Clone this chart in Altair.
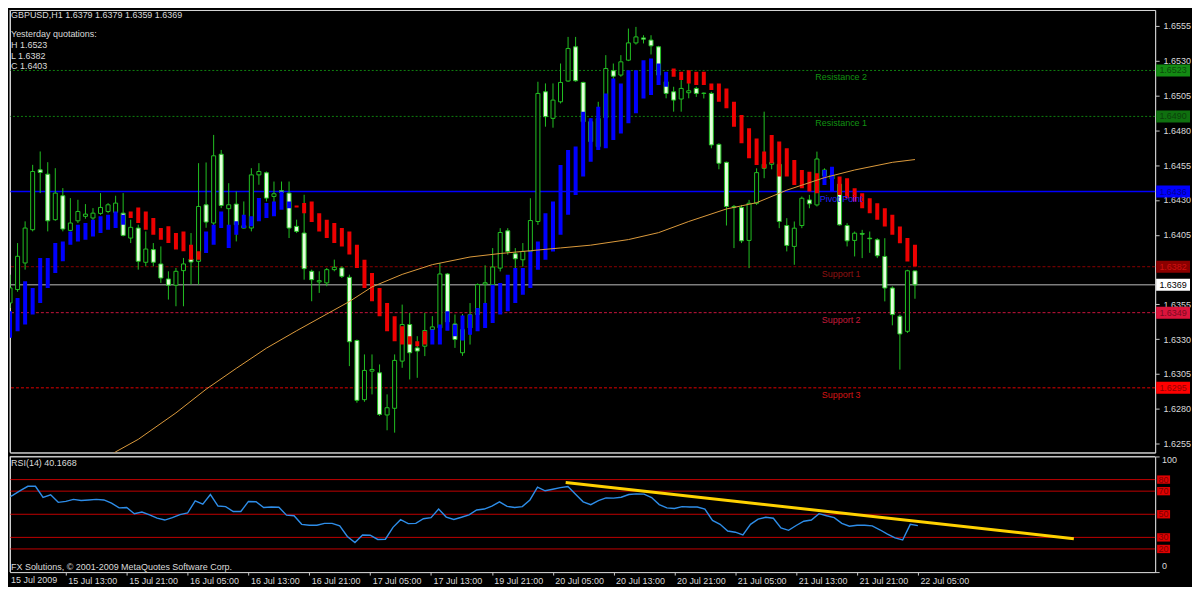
import json
import altair as alt
import pandas as pd

# ---------------- data ----------------
bars = list(range(121))

opens = [1.63560, 1.63656, 1.63847, 1.64086, 1.64516, 1.64485, 1.64158, 1.64330, 1.64081, 1.64150,
         1.64182, 1.64170, 1.64203, 1.64217, 1.64210, 1.64205, 1.64026, 1.64098, 1.63852, 1.63943,
         1.63840, 1.63732, 1.63687, 1.63792, 1.63876, 1.63859, 1.64265, 1.64134, 1.64628, 1.64237,
         1.64270, 1.64098, 1.64098, 1.64480, 1.64495, 1.64325, 1.64366, 1.64349, 1.64110, 1.64062,
         1.63787, 1.63711, 1.63704, 1.63799, 1.63811, 1.63744, 1.63290, 1.62865, 1.63070, 1.63058,
         1.62755, 1.62803, 1.63142, 1.63405, 1.63237, 1.63249, 1.63369, 1.63381, 1.63768, 1.63409,
         1.63202, 1.63380, 1.63476, 1.63695, 1.63691, 1.63810, 1.64078, 1.63913, 1.63870, 1.63930,
         1.64145, 1.65077, 1.64886, 1.65005, 1.65154, 1.65400, 1.65144, 1.64862, 1.64683, 1.64891,
         1.65228, 1.65197, 1.65304, 1.65428, 1.65464, 1.65448, 1.65400, 1.65149, 1.65077, 1.65025,
         1.65070, 1.65101, 1.65065, 1.65065, 1.64699, 1.64570, 1.64253, 1.64245, 1.64009, 1.64276,
         1.64527, 1.64556, 1.64556, 1.64116, 1.63966, 1.64116, 1.64300, 1.64264, 1.64515, 1.64450,
         1.64413, 1.64116, 1.64009, 1.64059, 1.64025, 1.64014, 1.63894, 1.63667, 1.63464, 1.63356,
         1.63790]

highs = [1.63763, 1.63990, 1.64146, 1.64552, 1.64648, 1.64571, 1.64528, 1.64385, 1.64313, 1.64301,
         1.64270, 1.64241, 1.64349, 1.64277, 1.64330, 1.64349, 1.64158, 1.64122, 1.64074, 1.63990,
         1.63966, 1.63787, 1.63811, 1.63883, 1.64062, 1.64564, 1.64569, 1.64767, 1.64659, 1.64420,
         1.64361, 1.64289, 1.64528, 1.64564, 1.64504, 1.64432, 1.64432, 1.64432, 1.64158, 1.64337,
         1.63799, 1.63787, 1.63811, 1.63871, 1.63823, 1.63763, 1.63297, 1.63190, 1.63190, 1.63118,
         1.62903, 1.63190, 1.63548, 1.63488, 1.63321, 1.63488, 1.63465, 1.63847, 1.63775, 1.63477,
         1.63480, 1.63559, 1.63700, 1.63830, 1.63954, 1.64097, 1.64097, 1.63954, 1.63990, 1.64312,
         1.65149, 1.65137, 1.65137, 1.65280, 1.65471, 1.65471, 1.65149, 1.64886, 1.65005, 1.65340,
         1.65280, 1.65340, 1.65531, 1.65543, 1.65483, 1.65483, 1.65407, 1.65185, 1.65113, 1.65161,
         1.65161, 1.65113, 1.65072, 1.65077, 1.64707, 1.64575, 1.64264, 1.64264, 1.64300, 1.64527,
         1.64934, 1.64659, 1.64575, 1.64169, 1.64145, 1.64324, 1.64336, 1.64647, 1.64527, 1.64527,
         1.64420, 1.64133, 1.64073, 1.64085, 1.64073, 1.64025, 1.64025, 1.63679, 1.63476, 1.63798,
         1.63790]

lows = [1.63524, 1.63640, 1.63799, 1.64074, 1.64349, 1.64074, 1.64150, 1.64074, 1.64074, 1.64134,
        1.64165, 1.64146, 1.64193, 1.64205, 1.64198, 1.64038, 1.63990, 1.63799, 1.63823, 1.63823,
        1.63704, 1.63584, 1.63536, 1.63536, 1.63692, 1.63692, 1.64100, 1.64120, 1.64241, 1.64074,
        1.64002, 1.64096, 1.64074, 1.64409, 1.64289, 1.64265, 1.64337, 1.64026, 1.64062, 1.63727,
        1.63572, 1.63632, 1.63680, 1.63787, 1.63739, 1.63106, 1.62843, 1.62850, 1.62903, 1.62748,
        1.62645, 1.62628, 1.63094, 1.63010, 1.63022, 1.63178, 1.63297, 1.63360, 1.63381, 1.63237,
        1.63180, 1.63261, 1.63450, 1.63550, 1.63667, 1.63786, 1.63906, 1.63798, 1.63822, 1.63906,
        1.64121, 1.64826, 1.64819, 1.64993, 1.65149, 1.65149, 1.64850, 1.64647, 1.64671, 1.64886,
        1.65149, 1.65185, 1.65297, 1.65416, 1.65424, 1.65345, 1.65137, 1.65030, 1.64934, 1.64934,
        1.65030, 1.65040, 1.65029, 1.64671, 1.64520, 1.64116, 1.63954, 1.63990, 1.63810, 1.64264,
        1.64456, 1.64520, 1.64097, 1.63930, 1.63834, 1.64097, 1.64240, 1.64253, 1.64430, 1.64408,
        1.64116, 1.63966, 1.63894, 1.63882, 1.63920, 1.63882, 1.63571, 1.63399, 1.63081, 1.63344,
        1.63590]

closes = [1.63668, 1.63895, 1.64098, 1.64504, 1.64497, 1.64150, 1.64349, 1.64091, 1.64134, 1.64217,
          1.64198, 1.64205, 1.64246, 1.64265, 1.64277, 1.64045, 1.64103, 1.63859, 1.63947, 1.63852,
          1.63739, 1.63687, 1.63787, 1.63840, 1.63854, 1.64253, 1.64141, 1.64617, 1.64260, 1.64265,
          1.64122, 1.64115, 1.64480, 1.64504, 1.64313, 1.64344, 1.64354, 1.64098, 1.64074, 1.63806,
          1.63727, 1.63720, 1.63799, 1.63816, 1.63751, 1.63281, 1.62860, 1.63075, 1.63082, 1.62759,
          1.62807, 1.63147, 1.63405, 1.63202, 1.63214, 1.63362, 1.63388, 1.63768, 1.63424, 1.63297,
          1.63369, 1.63476, 1.63691, 1.63705, 1.63818, 1.64066, 1.63930, 1.63877, 1.63930, 1.64152,
          1.65065, 1.64898, 1.65017, 1.65144, 1.65388, 1.65156, 1.64862, 1.64719, 1.64886, 1.65244,
          1.65189, 1.65292, 1.65428, 1.65471, 1.65455, 1.65407, 1.65197, 1.65065, 1.65017, 1.65101,
          1.65084, 1.65065, 1.65067, 1.64695, 1.64563, 1.64253, 1.64245, 1.64006, 1.64276, 1.64496,
          1.64556, 1.64570, 1.64145, 1.63973, 1.64097, 1.64312, 1.64272, 1.64594, 1.64475, 1.64480,
          1.64121, 1.64006, 1.64061, 1.64054, 1.64021, 1.63899, 1.63667, 1.63476, 1.63337, 1.63791,
          1.63690]

# trend ribbon (upper / lower value, 1 = blue up-trend, 0 = red down-trend)
rib_hi = [1.63500, 1.63596, 1.63715, 1.63668, 1.63883, 1.63883, 1.63990, 1.64002, 1.64074, 1.64122,
          1.64134, 1.64158, 1.64182, 1.64193, 1.64217, 1.64193, 1.64217, 1.64246, 1.64217, 1.64170,
          1.64098, 1.64110, 1.64062, 1.64074, 1.63978, 1.63931, 1.64074, 1.64122, 1.64217, 1.64122,
          1.64146, 1.64193, 1.64182, 1.64313, 1.64277, 1.64289, 1.64361, 1.64289, 1.64260, 1.64277,
          1.64289, 1.64205, 1.64158, 1.64134, 1.64098, 1.64074, 1.63978, 1.63871, 1.63775, 1.63668,
          1.63560, 1.63465, 1.63393, 1.63321, 1.63285, 1.63357, 1.63369, 1.63405, 1.63500, 1.63405,
          1.63470, 1.63476, 1.63524, 1.63559, 1.63691, 1.63703, 1.63763, 1.63810, 1.63810, 1.63930,
          1.64002, 1.64205, 1.64288, 1.64551, 1.64659, 1.64683, 1.64934, 1.64886, 1.64970, 1.65065,
          1.65173, 1.65137, 1.65232, 1.65232, 1.65304, 1.65316, 1.65280, 1.65220, 1.65244, 1.65220,
          1.65232, 1.65220, 1.65220, 1.65137, 1.65137, 1.65101, 1.65005, 1.64910, 1.64814, 1.64742,
          1.64647, 1.64766, 1.64719, 1.64671, 1.64587, 1.64515, 1.64503, 1.64492, 1.64515, 1.64539,
          1.64468, 1.64456, 1.64384, 1.64348, 1.64312, 1.64276, 1.64241, 1.64193, 1.64109, 1.64026,
          1.63978]
rib_lo = [1.63309, 1.63357, 1.63405, 1.63476, 1.63560, 1.63668, 1.63775, 1.63859, 1.63978, 1.64002,
          1.64014, 1.64038, 1.64062, 1.64086, 1.64098, 1.64122, 1.64170, 1.64134, 1.64086, 1.64050,
          1.64014, 1.63990, 1.63943, 1.63931, 1.63871, 1.63871, 1.63919, 1.63978, 1.64098, 1.63954,
          1.64050, 1.64098, 1.64110, 1.64146, 1.64170, 1.64182, 1.64229, 1.64241, 1.64246, 1.64205,
          1.64141, 1.64074, 1.64026, 1.63990, 1.63966, 1.63907, 1.63811, 1.63668, 1.63572, 1.63465,
          1.63357, 1.63285, 1.63261, 1.63261, 1.63249, 1.63261, 1.63261, 1.63261, 1.63360, 1.63321,
          1.63290, 1.63332, 1.63356, 1.63380, 1.63416, 1.63476, 1.63500, 1.63559, 1.63619, 1.63667,
          1.63798, 1.63870, 1.63930, 1.64049, 1.64193, 1.64336, 1.64468, 1.64575, 1.64659, 1.64671,
          1.64731, 1.64778, 1.64850, 1.64922, 1.65029, 1.65053, 1.65125, 1.65113, 1.65185, 1.65161,
          1.65137, 1.65125, 1.65125, 1.65089, 1.65005, 1.64958, 1.64826, 1.64707, 1.64599, 1.64551,
          1.64527, 1.64563, 1.64468, 1.64468, 1.64408, 1.64384, 1.64360, 1.64348, 1.64408, 1.64360,
          1.64336, 1.64312, 1.64288, 1.64241, 1.64205, 1.64157, 1.64109, 1.64049, 1.63989, 1.63858,
          1.63822]
rib_up = [1, 1, 1, 1, 1, 1, 1, 1, 1, 1, 1, 1, 1, 1, 1, 1,
          0, 0, 0, 0, 0, 0, 0, 0, 0, 0,
          1, 1, 1, 1, 1, 1, 1, 1, 1, 1, 1, 1,
          0, 0, 0, 0, 0, 0, 0, 0, 0, 0, 0, 0, 0, 0, 0, 0, 0, 0,
          1, 1, 1, 1, 1, 1, 1, 1, 1, 1, 1, 1, 1, 1, 1, 1, 1, 1, 1, 1, 1, 1, 1, 1, 1, 1, 1, 1, 1, 1, 1, 1,
          0, 0, 0, 0, 0, 0, 0, 0, 0, 0, 0, 0, 0, 0, 0, 0, 0, 0, 0, 0,
          1, 1,
          0, 0, 0, 0, 0, 0, 0, 0, 0, 0, 0]

# moving average (read at selected bars)
ma_bars = [10, 14, 17, 22, 26, 30, 34, 38, 42, 45, 48, 52, 56, 61, 65, 69, 73, 77, 82, 86,
           90, 95, 99, 103, 108, 112, 117, 120]
ma_vals = [1.62350, 1.62490, 1.62580, 1.62770, 1.62940, 1.63090, 1.63235, 1.63360, 1.63480, 1.63570,
           1.63675, 1.63765, 1.63835, 1.63890, 1.63915, 1.63935, 1.63955, 1.63975, 1.64015, 1.64065,
           1.64145, 1.64235, 1.64280, 1.64370, 1.64460, 1.64515, 1.64570, 1.64590]

rsi = [62.9, 66.3, 70.5, 74.2, 74.2, 64.5, 66.8, 60.3, 61.1, 62.9,
       61.9, 62.4, 62.9, 62.4, 59.7, 55.5, 55.8, 50.5, 51.9, 49.5,
       46.6, 45.0, 47.1, 49.7, 51.1, 61.6, 58.7, 67.1, 57.1, 56.6,
       52.4, 52.4, 61.1, 60.8, 55.8, 56.3, 56.1, 49.2, 48.7, 41.3,
       40.5, 40.5, 42.1, 42.1, 40.0, 30.8, 25.5, 32.1, 31.9, 28.2,
       28.4, 38.7, 45.3, 41.9, 42.1, 46.1, 47.1, 54.5, 47.6, 45.5,
       47.4, 49.5, 53.7, 54.5, 57.1, 60.8, 56.8, 55.8, 56.6, 62.4,
       73.4, 70.3, 71.6, 73.0, 74.0, 67.4, 60.8, 58.3, 61.8, 64.2,
       64.0, 64.7, 67.1, 67.6, 67.4, 64.5, 58.4, 55.5, 55.0, 56.6,
       56.3, 56.3, 54.5, 44.7, 41.3, 35.5, 34.5, 32.1, 41.3, 45.8,
       47.4, 46.6, 38.2, 36.1, 40.3, 44.0, 45.0, 50.5, 48.7, 47.1,
       42.1, 39.7, 40.5, 40.5, 40.0, 36.6, 32.9, 29.5, 27.8, 41.3,
       40.2]

trend_bars = [73.7, 140.5]
trend_vals = [77.4, 28.9]

level_prices = [1.6523, 1.6490, 1.6436, 1.6382, 1.6369, 1.6349, 1.6295]
level_names = ["Resistance 2", "Resistance 1", "Pivot Point", "Support 1", "", "Support 2", "Support 3"]
rsi_levels = [80, 70, 50, 30, 20]

# 1.6380 sits under the 1.6382 price box in the reference, so it is not shown
y_ticks = [1.6255, 1.6280, 1.6305, 1.6330, 1.6355, 1.6405,
           1.6430, 1.6455, 1.6480, 1.6505, 1.6530, 1.6555]
tick_bars = [0, 8, 16, 24, 32, 40, 48, 56, 64, 72, 80, 88, 96, 104, 112, 120]
tick_labels = ["15 Jul 2009", "15 Jul 13:00", "15 Jul 21:00", "16 Jul 05:00", "16 Jul 13:00",
               "16 Jul 21:00", "17 Jul 05:00", "17 Jul 13:00", "19 Jul 21:00", "20 Jul 05:00",
               "20 Jul 13:00", "20 Jul 21:00", "21 Jul 05:00", "21 Jul 13:00", "21 Jul 21:00",
               "22 Jul 05:00"]

info_lines = ["GBPUSD,H1  1.6379 1.6379 1.6359 1.6369", "Yesterday quotations:",
              "H 1.6523", "L 1.6382", "C 1.6403"]
rsi_title = "RSI(14) 40.1668"
copyright_text = "FX Solutions, © 2001-2009 MetaQuotes Software Corp."

# ---------------- styles ----------------
FONT = "Liberation Sans"
FRAME = "#c8c8c8"
TXT = "#dadada"
WICK = "#22c022"
BEAR_FILL = "#e4ffdc"
W = 1149
H1 = 444
H2 = 116
PX_PER_BAR = 7.633
X0 = 0.655

LEVEL_STYLE = [
    dict(line="#0f7f0f", dash=[2, 2], width=1, text="#129212", box="#138a13", boxtext="#0a4a0a"),
    dict(line="#0f7f0f", dash=[2, 2], width=1, text="#129212", box="#0f700f", boxtext="#0a420a"),
    dict(line="#0000ff", dash=None, width=1.6, text="#2020ff", box="#0000ff", boxtext="#000090"),
    dict(line="#8b0000", dash=[3, 2], width=1, text="#8e1212", box="#8b0000", boxtext="#d01010"),
    dict(line="#bdbdbd", dash=None, width=1, text="#ffffff", box="#ffffff", boxtext="#000000"),
    dict(line="#c8143c", dash=[3, 2], width=1, text="#c41a3a", box="#dc143c", boxtext="#7a0a20"),
    dict(line="#e00000", dash=[3, 2], width=1, text="#d41414", box="#ff0000", boxtext="#900000"),
]
INFO_Y = [5, 24, 35, 46, 56]

xsc = alt.Scale(domain=[X0, X0 + W / PX_PER_BAR], nice=False, zero=False)
ysc = alt.Scale(domain=[1.624856, 1.656646], nice=False, zero=False)
rsc = alt.Scale(domain=[0, 100], nice=False, zero=False)

x_main_axis = alt.Axis(domain=True, domainColor=FRAME, ticks=False, labels=False, grid=False, title=None)
y_main_axis = alt.Axis(orient="right", values=y_ticks, format=".4f", grid=False, title=None,
                       domainColor=FRAME, tickColor=FRAME, tickSize=4, labelColor=TXT,
                       labelFont=FONT, labelFontSize=9, labelPadding=4, labelFlush=False,
                       labelOverlap=False)


def XM(field="bar:Q"):
    return alt.X(field, scale=xsc, axis=x_main_axis)


def YM(field):
    return alt.Y(field, scale=ysc, axis=y_main_axis)


df = pd.DataFrame(dict(bar=bars, open=opens, high=highs, low=lows, close=closes,
                       rhi=rib_hi, rlo=rib_lo, up=rib_up))
ma_df = pd.DataFrame(dict(bar=ma_bars, ma=ma_vals))
one = pd.DataFrame({"a": [0]})

main_layers = []

# horizontal levels (behind candles)
for i, (p, nm) in enumerate(zip(level_prices, level_names)):
    st = LEVEL_STYLE[i]
    d = pd.DataFrame({"price": [p], "name": [nm], "label": [f"{p:.4f}"]})
    kw = dict(color=st["line"], strokeWidth=st["width"])
    if st["dash"]:
        kw["strokeDash"] = st["dash"]
    main_layers.append(alt.Chart(d).mark_rule(**kw).encode(y=YM("price:Q")))

# left frame line
main_layers.append(alt.Chart(one).mark_rule(color=FRAME, strokeWidth=1).encode(
    x=alt.value(0), y=alt.value(0), y2=alt.value(H1)))

# wicks
main_layers.append(
    alt.Chart(df).mark_rule(color=WICK, strokeWidth=1, clip=True).encode(
        x=XM(), y=YM("low:Q"), y2="high:Q"))
# bodies
main_layers.append(
    alt.Chart(df).mark_bar(size=4, stroke=WICK, strokeWidth=1, clip=True).encode(
        x=XM(), y=YM("open:Q"), y2="close:Q",
        fill=alt.condition("datum.close >= datum.open", alt.value("#000000"), alt.value(BEAR_FILL))))
# trend ribbon
main_layers.append(
    alt.Chart(df).mark_bar(size=4, clip=True).encode(
        x=XM(), y=YM("rlo:Q"), y2="rhi:Q",
        color=alt.condition("datum.up == 1", alt.value("#0000ff"), alt.value("#ee0000"))))
# moving average
main_layers.append(
    alt.Chart(ma_df).mark_line(color="#dc9b3c", strokeWidth=1, clip=True).encode(
        x=XM(), y=YM("ma:Q")))

# level texts and price boxes
for i, (p, nm) in enumerate(zip(level_prices, level_names)):
    st = LEVEL_STYLE[i]
    d = pd.DataFrame({"price": [p], "name": [nm], "label": [f"{p:.4f}"]})
    base = alt.Chart(d)
    if nm:
        main_layers.append(base.mark_text(color=st["text"], font=FONT, fontSize=9, align="center",
                                          baseline="middle", dy=7).encode(
            x=alt.value(834), y=YM("price:Q"), text="name:N"))
    main_layers.append(
        base.transform_calculate(lo="datum.price - 0.00043", hi="datum.price + 0.00043")
        .mark_rect(fill=st["box"]).encode(
            x=alt.value(W + 1), x2=alt.value(W + 35), y=YM("lo:Q"), y2="hi:Q"))
    main_layers.append(base.mark_text(color=st["boxtext"], font=FONT, fontSize=9, align="center",
                                      baseline="middle").encode(
        x=alt.value(W + 18), y=YM("price:Q"), text="label:N"))

# info text top-left
for s, yy in zip(info_lines, INFO_Y):
    main_layers.append(
        alt.Chart(pd.DataFrame({"t": [s]})).mark_text(color=TXT, font=FONT, fontSize=9, align="left",
                                                       baseline="middle").encode(
            x=alt.value(1), y=alt.value(yy), text="t:N"))

main = alt.layer(*main_layers).properties(width=W, height=H1)

# ---------------- RSI panel ----------------
label_expr = json.dumps(tick_labels) + "[round(datum.value / 8)]"
x_rsi_axis = alt.Axis(orient="bottom", values=tick_bars[1:], labelExpr=label_expr, labelAlign="left",
                      labelBaseline="top", labelOffset=2, labelPadding=1, tickSize=3, tickColor=FRAME,
                      domainColor=FRAME, labelColor=TXT, labelFont=FONT, labelFontSize=9, grid=False,
                      title=None, labelOverlap=False, labelFlush=False)
y_rsi_axis = alt.Axis(orient="right", values=[0, 100], labels=False, ticks=True, tickSize=4,
                      tickColor=FRAME, domainColor=FRAME, grid=False, title=None)


def XR(field="bar:Q"):
    return alt.X(field, scale=xsc, axis=x_rsi_axis)


def YR(field):
    return alt.Y(field, scale=rsc, axis=y_rsi_axis)


rsi_df = pd.DataFrame(dict(bar=bars, rsi=rsi))
lvl_df = pd.DataFrame(dict(lvl=rsi_levels, label=[str(v) for v in rsi_levels]))
trend_df = pd.DataFrame(dict(bar=trend_bars, v=trend_vals))


def small_text(s, xx, yy, align="left", baseline="middle"):
    return alt.Chart(pd.DataFrame({"t": [s]})).mark_text(
        color=TXT, font=FONT, fontSize=9, align=align, baseline=baseline).encode(
        x=alt.value(xx), y=alt.value(yy), text="t:N")


rsi_layers = [
    alt.Chart(lvl_df).mark_rule(color="#c00000", strokeWidth=1).encode(y=YR("lvl:Q")),
    alt.Chart(rsi_df).mark_line(color="#2e8de8", strokeWidth=1.4, clip=True).encode(
        x=XR(), y=YR("rsi:Q")),
    alt.Chart(trend_df).mark_line(color="#ffd200", strokeWidth=3, clip=True).encode(
        x=XR(), y=YR("v:Q")),
    alt.Chart(one).mark_rule(color=FRAME, strokeWidth=1).encode(
        x=alt.value(0), x2=alt.value(W), y=alt.value(0)),
    alt.Chart(one).mark_rule(color=FRAME, strokeWidth=1).encode(
        x=alt.value(0), y=alt.value(0), y2=alt.value(H2)),
    alt.Chart(lvl_df).transform_calculate(lo="datum.lvl - 3.6", hi="datum.lvl + 3.6")
    .mark_rect(fill="#e00000").encode(x=alt.value(W + 2), x2=alt.value(W + 15), y=YR("lo:Q"), y2="hi:Q"),
    alt.Chart(lvl_df).mark_text(color="#7a0000", font=FONT, fontSize=9, align="center",
                                baseline="middle").encode(x=alt.value(W + 8.5), y=YR("lvl:Q"), text="label:N"),
    small_text("100", W + 7, 4),
    small_text("0", W + 7, H2 - 6),
    small_text(rsi_title, 1, 7),
    small_text(copyright_text, 1, H2 - 5),
    small_text(tick_labels[0], 1, H2 + 4, baseline="top"),
]

rsi_chart = alt.layer(*rsi_layers).properties(width=W, height=H2)

chart = (
    alt.vconcat(main, rsi_chart, spacing=4, bounds="flush", padding=0, background="#000000")
    .configure_view(stroke="transparent")
    .configure(font=FONT)
)

chart.save("out.html", embed_options={"renderer": "svg", "actions": False})
